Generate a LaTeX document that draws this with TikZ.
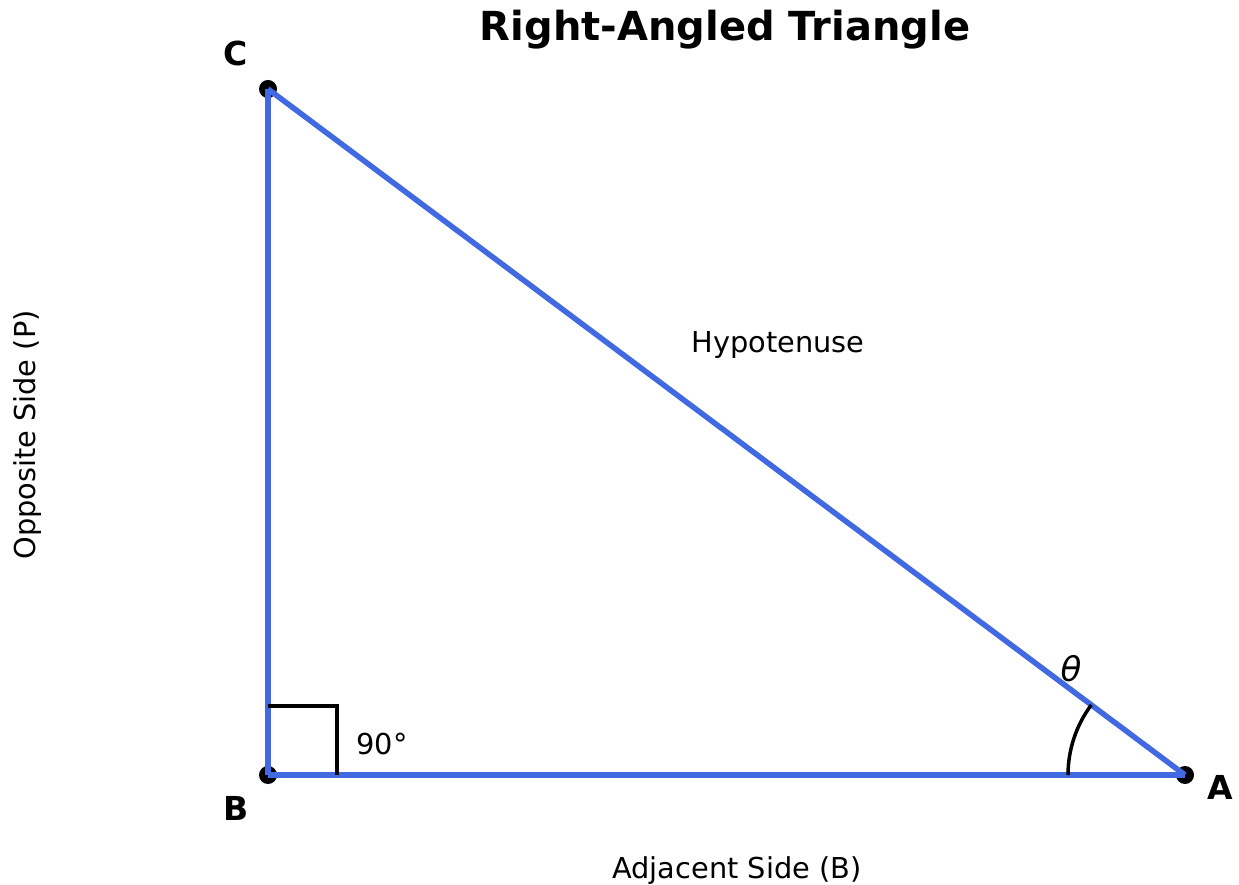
\documentclass[tikz,border=0pt]{standalone}
\usepackage{fontspec}
\setmainfont{DejaVu Sans}
\begin{document}
\begin{tikzpicture}[x=1pt,y=1pt,
  side/.style={draw={rgb,255:red,65;green,105;blue,225},line width=5.5pt},
  vdot/.style={fill=black,draw=none},
  lbl/.style={inner sep=0pt,font=\fontsize{28.8}{34}\selectfont},
  vlbl/.style={inner sep=0pt,font=\fontsize{33}{38}\selectfont\bfseries},
  anglemark/.style={draw=black,line width=3.5pt}]
\useasboundingbox (0,0) rectangle (1239,884);
\coordinate (B) at (268,109);
\coordinate (C) at (268,795);
\coordinate (A) at (1185,109);
\fill[vdot] (A) circle[radius=9];
\fill[vdot] (B) circle[radius=9];
\fill[vdot] (C) circle[radius=9];
\draw[side] (B) -- (A);
\draw[side] (B) -- (C);
\draw[side] (C) -- (A);
\draw[anglemark] (268,178) -- (337,178) -- (337,109);
\draw[anglemark] (1068,109) arc[start angle=180,end angle=143.2,radius=117];
\node[inner sep=0pt,font=\fontsize{40}{46}\selectfont\bfseries] (title) at (725,854) {Right-Angled Triangle};
\node[vlbl] (lC) at (236,831) {C};
\node[vlbl] (lB) at (236,76) {B};
\node[vlbl] (lA) at (1220,97) {A};
\node[lbl] (hyp) at (778,539) {Hypotenuse};
\node[lbl] (adj) at (737,13) {Adjacent Side (B)};
\node[lbl,rotate=90] (opp) at (28,449) {Opposite Side (P)};
\node[lbl] (ninety) at (382,140) {90°};
\node[inner sep=0pt,font=\fontsize{34}{40}\selectfont\itshape] (theta) at (1071,215) {θ};
\end{tikzpicture}
\end{document}
